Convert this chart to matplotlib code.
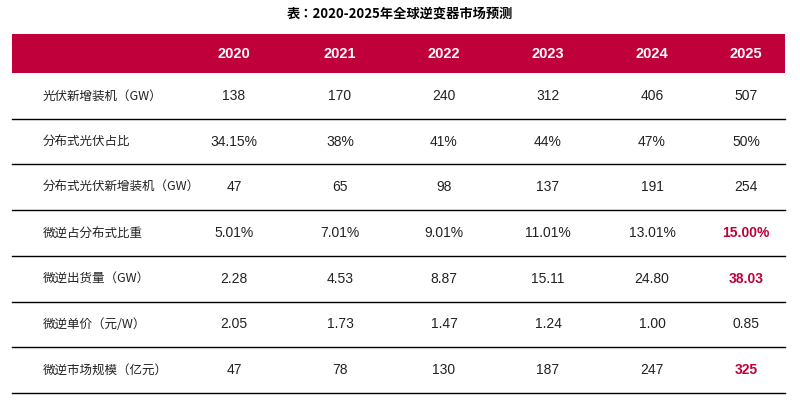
import matplotlib
matplotlib.use("Agg")
import matplotlib.pyplot as plt
from matplotlib.patches import Rectangle
from matplotlib import font_manager as fm

cjk = None
for f in fm.fontManager.ttflist:
    if "CJK" in f.name and ("SC" in f.name or cjk is None):
        cjk = f.name
        if "SC" in f.name:
            break
if cjk is None:
    cjk = "DejaVu Sans"
plt.rcParams["font.family"] = ["Liberation Sans", cjk]

title = "表：2020-2025年全球逆变器市场预测"
years = ["2020", "2021", "2022", "2023", "2024", "2025"]
row_labels = ["光伏新增装机（GW）", "分布式光伏占比", "分布式光伏新增装机（GW）",
              "微逆占分布式比重", "微逆出货量（GW）", "微逆单价（元/W）", "微逆市场规模（亿元）"]
r1 = ["138", "170", "240", "312", "406", "507"]
r2 = ["34.15%", "38%", "41%", "44%", "47%", "50%"]
r3 = ["47", "65", "98", "137", "191", "254"]
r4 = ["5.01%", "7.01%", "9.01%", "11.01%", "13.01%", "15.00%"]
r5 = ["2.28", "4.53", "8.87", "15.11", "24.80", "38.03"]
r6 = ["2.05", "1.73", "1.47", "1.24", "1.00", "0.85"]
r7 = ["47", "78", "130", "187", "247", "325"]
rows = [r1, r2, r3, r4, r5, r6, r7]
highlight = [False, False, False, True, True, False, True]

RED = "#C0003A"
fig = plt.figure(figsize=(8, 4), dpi=100)
ax = fig.add_axes([0, 0, 1, 1])
ax.set_xlim(0, 800); ax.set_ylim(400, 0); ax.axis("off")

ax.text(400, 14, title, ha="center", va="center", fontsize=9.5, fontweight="bold",
        fontfamily=cjk)
left, right, htop, hbot = 12, 785, 34, 73
ax.add_patch(Rectangle((left, htop), right - left, hbot - htop, color=RED, lw=0))
col_x = [234, 340, 444, 548, 652, 746]
for x, y in zip(col_x, years):
    ax.text(x, (htop + hbot) / 2 + 1, y, ha="center", va="center", color="white",
            fontsize=10.5, fontweight="bold")
rh = (393 - hbot) / len(rows)
for i, (lab, vals) in enumerate(zip(row_labels, rows)):
    yc = hbot + rh * (i + 0.5)
    ax.text(43, yc, lab, ha="left", va="center", fontsize=9, color="#222222",
            fontfamily=cjk)
    for j, (x, v) in enumerate(zip(col_x, vals)):
        hl = highlight[i] and j == len(vals) - 1
        ax.text(x, yc, v, ha="center", va="center", fontsize=10,
                color=RED if hl else "#222222", fontweight="bold" if hl else "normal")
    ax.plot([left, right], [hbot + rh * (i + 1)] * 2, color="black", lw=1)
fig.savefig("out.png", dpi=100)
